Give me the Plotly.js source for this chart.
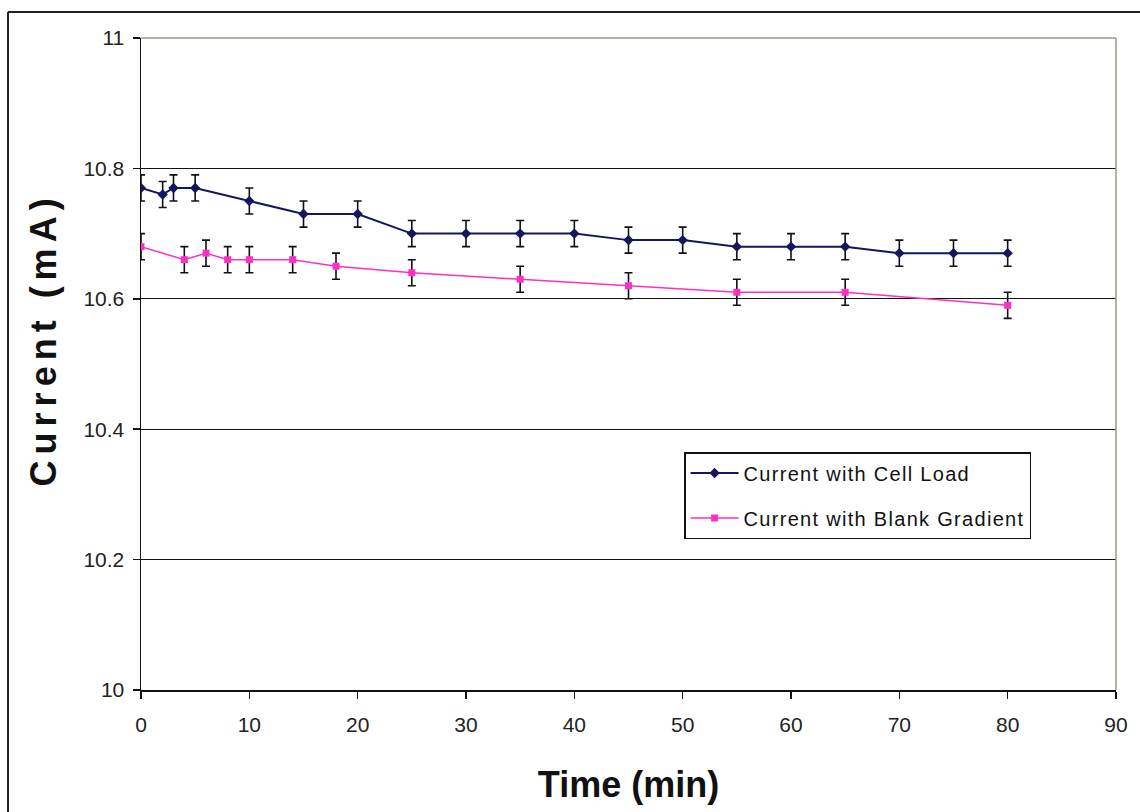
<!DOCTYPE html>
<html>
<head>
<meta charset="utf-8">
<script src="https://cdn.plot.ly/plotly-3.0.1.min.js"></script>
<style>
  html, body { margin: 0; padding: 0; background: #fff; }
  #chart { width: 1140px; height: 812px; }
  .legendtext { letter-spacing: 1.3px; }
  .annotation-text { letter-spacing: 6px; }
</style>
</head>
<body>
<div id="chart"></div>
<script>
// Series: Current with Cell Load
const cellTime = [0, 2, 3, 5, 10, 15, 20, 25, 30, 35, 40, 45, 50, 55, 60, 65, 70, 75, 80];
const cellCurrent = [10.77, 10.76, 10.77, 10.77, 10.75, 10.73, 10.73, 10.70, 10.70, 10.70, 10.70, 10.69, 10.69, 10.68, 10.68, 10.68, 10.67, 10.67, 10.67];
const cellError = [0.02, 0.02, 0.02, 0.02, 0.02, 0.02, 0.02, 0.02, 0.02, 0.02, 0.02, 0.02, 0.02, 0.02, 0.02, 0.02, 0.02, 0.02, 0.02];

// Series: Current with Blank Gradient
const blankTime = [0, 4, 6, 8, 10, 14, 18, 25, 35, 45, 55, 65, 80];
const blankCurrent = [10.68, 10.66, 10.67, 10.66, 10.66, 10.66, 10.65, 10.64, 10.63, 10.62, 10.61, 10.61, 10.59];
const blankError = [0.02, 0.02, 0.02, 0.02, 0.02, 0.02, 0.02, 0.02, 0.02, 0.02, 0.02, 0.02, 0.02];

const seriesNames = ['Current with Cell Load', 'Current with Blank Gradient'];
const xTicks = [0, 10, 20, 30, 40, 50, 60, 70, 80, 90];
const yTicks = [10, 10.2, 10.4, 10.6, 10.8, 11];
const yTickText = ['10', '10.2', '10.4', '10.6', '10.8', '11'];
const xTitle = 'Time (min)';
const yTitle = 'Current (mA)';

const sans = '"Liberation Sans", Arial, sans-serif';

const traces = [
  {
    x: cellTime, y: cellCurrent, name: seriesNames[0], type: 'scatter', mode: 'lines+markers',
    line: { color: '#16165e', width: 2 },
    marker: { symbol: 'diamond', size: 8, color: '#16165e' },
    error_y: { type: 'data', array: cellError, visible: true, color: '#111111', thickness: 1.6, width: 4 },
    legendgroup: 'a'
  },
  {
    x: blankTime, y: blankCurrent, name: seriesNames[1], type: 'scatter', mode: 'lines+markers',
    line: { color: '#ff2fc4', width: 1.5 },
    marker: { symbol: 'square', size: 7, color: '#ff2fc4' },
    error_y: { type: 'data', array: blankError, visible: true, color: '#111111', thickness: 1.6, width: 4 },
    legendgroup: 'b'
  }
];

const layout = {
  width: 1140, height: 812,
  margin: { l: 141, r: 24, t: 38, b: 122 },
  paper_bgcolor: '#ffffff', plot_bgcolor: '#ffffff',
  showlegend: true,
  legend: {
    x: 0.557, y: 0.365, xanchor: 'left', yanchor: 'top',
    bordercolor: '#111111', borderwidth: 1.5, bgcolor: '#ffffff',
    font: { family: sans, size: 20, color: '#111111' },
    tracegroupgap: 16, traceorder: 'grouped', itemwidth: 48
  },
  xaxis: {
    range: [0, 90], tickvals: xTicks, ticktext: xTicks.map(String),
    showgrid: false, zeroline: false,
    showline: true, linecolor: '#111111', linewidth: 1.5,
    ticks: 'outside', ticklen: 7, tickwidth: 1.5, tickcolor: '#111111',
    ticklabelstandoff: 8,
    tickfont: { family: sans, size: 21, color: '#222222' },
    title: { text: xTitle, font: { family: sans, size: 36, color: '#111111', weight: 'bold' }, standoff: 37 }
  },
  yaxis: {
    range: [10, 11], tickvals: yTicks, ticktext: yTickText,
    showgrid: true, gridcolor: '#111111', gridwidth: 1.2,
    zeroline: false,
    showline: true, linecolor: '#111111', linewidth: 1.5,
    ticks: 'outside', ticklen: 7, tickwidth: 1.5, tickcolor: '#111111',
    ticklabelstandoff: 4,
    tickfont: { family: sans, size: 21, color: '#222222' }
  },
  annotations: [
    { text: yTitle, textangle: -90, xref: 'paper', yref: 'paper', x: -0.1, y: 0.537,
      xanchor: 'center', yanchor: 'middle', showarrow: false,
      font: { family: sans, size: 36, color: '#111111', weight: 'bold' } }
  ],
  shapes: [
    // plot-area border (top and right), grey
    { type: 'line', xref: 'paper', yref: 'paper', x0: 0, x1: 1, y0: 1, y1: 1, line: { color: '#9a9a8a', width: 1.5 } },
    { type: 'line', xref: 'paper', yref: 'paper', x0: 1, x1: 1, y0: 0, y1: 1, line: { color: '#9a9a8a', width: 1.5 } },
    // outer chart border
    { type: 'line', xref: 'paper', yref: 'paper', x0: -0.1364, x1: 1.03, y0: 1.0399, y1: 1.0399, line: { color: '#222222', width: 2 } },
    { type: 'line', xref: 'paper', yref: 'paper', x0: -0.1364, x1: -0.1364, y0: -0.19, y1: 1.0399, line: { color: '#222222', width: 2 } }
  ]
};

Plotly.newPlot('chart', traces, layout, { displayModeBar: false, staticPlot: true });
</script>
</body>
</html>
